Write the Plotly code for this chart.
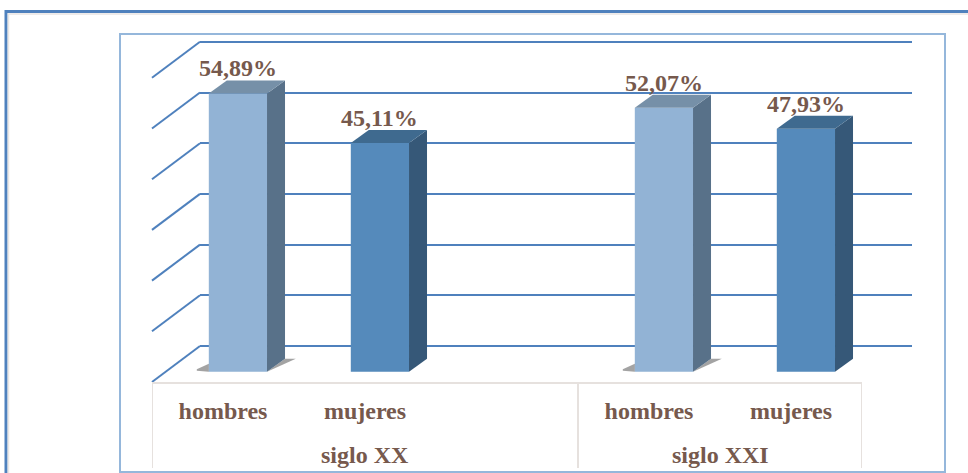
import plotly.graph_objects as go

# ---------------- data ----------------
groups = ["siglo XX", "siglo XX", "siglo XX", "siglo XXI", "siglo XXI"]
sexes = ["hombres", "mujeres", " ", "hombres", "mujeres"]
values = [54.89, 45.11, None, 52.07, 47.93]
grid_values = [0, 10, 20, 30, 40, 50, 60]

# ---------------- style ----------------
front_colors = ["#92b3d5", "#558abb", "#92b3d5", "#92b3d5", "#558abb"]
side_colors = ["#587189", "#365878", "#587189", "#587189", "#365878"]
top_colors = ["#7690a8", "#3f6a8f", "#7690a8", "#7690a8", "#3f6a8f"]
has_shadow = [True, False, False, True, False]
TEXT_COLOR = "#76594d"
GRID_COLOR = "#4f81bd"
TABLE_COLOR = "#e6e1de"
SHADOW = "rgba(50,50,50,0.45)"
FONT = "Liberation Serif"
FONT_SIZE = 24

W, H = 968, 473
PX = 5.07                     # pixels per percentage point
WALL_X = (200, 912)           # back wall horizontal extent (px)
WALL_Y0 = 346                 # back wall: pixel of 0
FLOOR_X = (152, 862)          # floor front edge extent (px)
FLOOR_Y = 382                 # floor front edge (px)
BAR_Y0 = 371.7                # bar front plane: pixel of 0
TOP_PX = 20
DEPTH = (18, 13)              # bar depth offset (px)
DIAG = (48, 36)               # side wall depth (px)
BW, OFF = 0.41, -0.10         # bar width / left edge offset (category units)
GROUP_LABEL_Y = 455           # px
TABLE_BOTTOM = 468            # px

n = len(values)
pos = list(range(n))
slot_px = (FLOOR_X[1] - FLOOR_X[0]) / n
dx = DEPTH[0] / slot_px
dy = DEPTH[1] / PX


def py(p):
    return 1 - p / H


def pxx(p):
    return p / W


# back-wall axis: padded so that end gridlines and the wall diagonals are not clipped
y_lo = grid_values[0] - (DIAG[1] + 6) / PX
y_hi = grid_values[-1] + 1
y2_lo = -(FLOOR_Y - BAR_Y0) / PX
y2_hi = y2_lo + (FLOOR_Y - TOP_PX) / PX

fig = go.Figure()

# soft floor shadows (left of the front face and right of the side face)
for i, v in enumerate(values):
    if v is None or not has_shadow[i]:
        continue
    xl = pos[i] + OFF
    xr = xl + BW
    sx = 12 / slot_px
    fig.add_trace(go.Scatter(
        x=[xl - sx, xl, xl, xl - sx],
        y=[1 / PX, 0, 8 / PX, 2.5 / PX],
        mode="lines", fill="toself", fillcolor=SHADOW,
        line=dict(width=0, color="rgba(0,0,0,0)"),
        xaxis="x2", yaxis="y2", showlegend=False, hoverinfo="skip"))
    fig.add_trace(go.Scatter(
        x=[xr, xr + dx + sx * 0.9, xr + dx],
        y=[0, dy, dy],
        mode="lines", fill="toself", fillcolor=SHADOW,
        line=dict(width=0, color="rgba(0,0,0,0)"),
        xaxis="x2", yaxis="y2", showlegend=False, hoverinfo="skip"))

# front faces
fig.add_trace(go.Bar(
    x=pos, y=values, width=BW, offset=OFF,
    marker=dict(color=front_colors, line=dict(width=0)),
    xaxis="x2", yaxis="y2", showlegend=False, hoverinfo="skip",
))

# side and top faces + value labels
annotations = []
for i, v in enumerate(values):
    if v is None:
        continue
    xl = pos[i] + OFF
    xr = xl + BW
    fig.add_trace(go.Scatter(
        x=[xr, xr + dx, xr + dx, xr, xr], y=[0, dy, v + dy, v, 0],
        mode="lines", fill="toself", fillcolor=side_colors[i],
        line=dict(width=0, color=side_colors[i]),
        xaxis="x2", yaxis="y2", showlegend=False, hoverinfo="skip"))
    fig.add_trace(go.Scatter(
        x=[xl, xr, xr + dx, xl + dx, xl], y=[v, v, v + dy, v + dy, v],
        mode="lines", fill="toself", fillcolor=top_colors[i],
        line=dict(width=0, color=top_colors[i]),
        xaxis="x2", yaxis="y2", showlegend=False, hoverinfo="skip"))
    annotations.append(dict(
        x=xl + BW / 2, y=v + dy, xref="x2", yref="y2",
        text=f"{v:.2f}".replace(".", ",") + "%", showarrow=False,
        yanchor="bottom", xanchor="center", yshift=-3,
        font=dict(family=FONT, size=FONT_SIZE, color=TEXT_COLOR, weight="bold")))

shapes = []
# left wall diagonals (one per gridline)
for g in grid_values:
    shapes.append(dict(
        type="line", xref="paper", yref="y",
        x0=pxx(WALL_X[0]), x1=pxx(WALL_X[0] - DIAG[0]),
        y0=g, y1=g - DIAG[1] / PX,
        line=dict(color=GRID_COLOR, width=2), layer="below"))

# category table: group labels and dividers
group_names = []
for g in groups:
    if g not in group_names:
        group_names.append(g)
for g in group_names:
    idx = [p for p, gg in zip(pos, groups) if gg == g]
    annotations.append(dict(
        x=sum(idx) / len(idx), y=py(GROUP_LABEL_Y), xref="x2", yref="paper",
        text=g, showarrow=False, xanchor="center", yanchor="middle",
        font=dict(family=FONT, size=FONT_SIZE, color=TEXT_COLOR, weight="bold")))
    for edge in (min(idx) - 0.5, max(idx) + 0.5):
        shapes.append(dict(
            type="line", xref="x2", yref="paper", x0=edge, x1=edge,
            y0=py(FLOOR_Y), y1=py(TABLE_BOTTOM),
            line=dict(color=TABLE_COLOR, width=2)))

# outer frame
shapes.append(dict(type="rect", xref="paper", yref="paper",
                   x0=pxx(6), y0=-0.05, x1=1.05, y1=py(11.5),
                   line=dict(color="#4f81bd", width=3)))
shapes.append(dict(type="rect", xref="paper", yref="paper",
                   x0=pxx(8.5), y0=-0.05, x1=1.05, y1=py(14),
                   line=dict(color="#e9e5e3", width=1.5)))
# inner plot-area frame
shapes.append(dict(type="rect", xref="paper", yref="paper",
                   x0=pxx(120), y0=py(472), x1=pxx(945), y1=py(34),
                   line=dict(color="#95b7db", width=2)))

fig.update_layout(
    width=W, height=H, autosize=False,
    margin=dict(l=0, r=0, t=0, b=0),
    paper_bgcolor="white", plot_bgcolor="rgba(0,0,0,0)",
    xaxis=dict(domain=[pxx(WALL_X[0]), pxx(WALL_X[1])], range=[0, 1],
               visible=False, anchor="y"),
    yaxis=dict(domain=[py(WALL_Y0 - y_lo * PX), py(WALL_Y0 - y_hi * PX)],
               range=[y_lo, y_hi],
               tickvals=grid_values, showticklabels=False, ticks="",
               showgrid=True, gridcolor=GRID_COLOR, gridwidth=2,
               zeroline=False, showline=False, anchor="x"),
    xaxis2=dict(domain=[pxx(FLOOR_X[0]), pxx(FLOOR_X[1])],
                range=[-0.5, n - 0.5], tickvals=pos, ticktext=sexes,
                anchor="y2", showline=True, linecolor=TABLE_COLOR, linewidth=2,
                ticks="", ticklabelstandoff=6, showgrid=False, zeroline=False,
                tickfont=dict(family=FONT, size=FONT_SIZE, color=TEXT_COLOR,
                              weight="bold")),
    yaxis2=dict(domain=[py(FLOOR_Y), py(TOP_PX)], range=[y2_lo, y2_hi],
                visible=False, anchor="x2"),
    shapes=shapes, annotations=annotations,
)

fig.write_html("out.html")
